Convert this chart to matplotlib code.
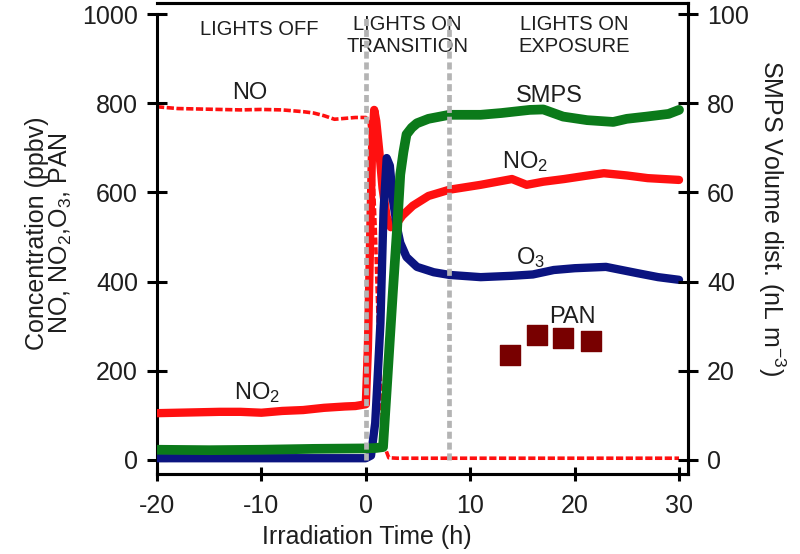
import numpy as np
import matplotlib
matplotlib.use("Agg")
import matplotlib.pyplot as plt

plt.rcParams['font.family'] = ['Liberation Sans', 'DejaVu Sans']
plt.rcParams['mathtext.default'] = 'regular'
plt.rcParams['axes.unicode_minus'] = False

# --- data ---
t_no = [-20, -18, -16, -14, -12, -10, -8, -6, -5, -4, -3, -2, -1, 0,
        0.3, 0.6, 0.9, 1.2, 1.5, 1.8, 2.2, 3, 5, 10, 15, 20, 25, 30]
no = [792, 788, 787, 786, 785, 786, 785, 781, 778, 772, 764, 766, 768, 768,
      760, 700, 520, 300, 120, 30, 5, 4, 4, 4, 4, 4, 4, 4]

t_no2 = [-20, -18, -16, -14, -12, -10, -8, -6, -4, -2, -1, 0, 0.2, 0.4, 0.6,
         0.8, 1.0, 1.3, 1.6, 2.0, 2.4, 2.8, 3.5, 4.5, 6, 8, 11, 14, 15.4,
         17, 19, 21, 22.8, 25, 27, 30]
no2 = [105, 106, 107, 108, 108, 106, 110, 112, 117, 120, 121, 125, 250, 480,
       700, 785, 760, 690, 610, 545, 522, 525, 548, 570, 592, 606, 617, 630,
       617, 624, 630, 637, 643, 638, 632, 628]

t_o3 = [-20, -10, 0, 0.5, 0.9, 1.1, 1.4, 1.7, 2.0, 2.3, 2.6, 3.0, 3.3, 3.9,
        4.9, 6.5, 8, 11, 14, 16, 18, 20, 23, 26, 28, 30]
o3 = [4, 4, 4, 10, 83, 170, 307, 560, 677, 660, 583, 520, 487, 455,
      433, 421, 415, 410, 413, 416, 426, 430, 433, 419, 410, 404]

t_smps = [-20, -15, -10, -5, 0, 1.0, 1.65, 2.0, 2.3, 2.6, 3.0, 3.3, 3.6, 3.9,
          4.4, 4.9, 6, 8, 11, 13, 15.7, 17, 18.9, 21.2, 23.7, 25, 26.9, 29, 30]
smps = [2.3, 2.2, 2.3, 2.5, 2.6, 2.7, 2.9, 15.7, 26.9, 38, 52, 64, 69, 73,
        74.5, 75.5, 76.5, 77.4, 77.4, 77.8, 78.5, 78.6, 77, 76.2, 75.8, 76.5,
        77, 77.6, 78.5]

t_pan = [13.8, 16.4, 18.9, 21.6]
pan = [235, 280, 274, 267]

x_ticks = [-20, -10, 0, 10, 20, 30]
left_ticks = [0, 200, 400, 600, 800, 1000]
right_ticks = [0, 20, 40, 60, 80, 100]

RED = '#ff1010'
NAVY = '#0b1480'
GREEN = '#0b7a1a'
PAN_C = '#780000'
TXT = '#1e1e1e'

fig = plt.figure(figsize=(8, 5.54), dpi=100)
ax = fig.add_axes([0.19625, 0.1444, 0.66375, 0.8502])
ax2 = ax.twinx()

ax.plot(t_no, no, color=RED, lw=2.6, ls=(0, (2, 0.7)), zorder=2)
ax.plot(t_no2, no2, color=RED, lw=6, solid_capstyle='round', zorder=3)
ax.plot(t_o3, o3, color=NAVY, lw=6, solid_capstyle='round', zorder=4)
ax.scatter(t_pan, pan, marker='s', s=190, color=PAN_C, zorder=5)
ax2.plot(t_smps, smps, color=GREEN, lw=7, solid_capstyle='round', zorder=3)

for xv in (0, 8):
    ax2.axvline(xv, ymin=0.03, ymax=0.975, color='#b4b4b4', lw=3.4,
                dashes=(1.5, 0.8), zorder=10)

ax.set_xlim(-20, 30.86)
ax.set_ylim(-31.4, 1024.7)
ax2.set_ylim(-3.14, 102.47)
ax.set_xticks(x_ticks)
ax.set_yticks(left_ticks)
ax2.set_yticks(right_ticks)

for a in (ax, ax2):
    for s in a.spines.values():
        s.set_linewidth(2.2)
ax.spines['left'].set_bounds(-31.4, 1000)
ax2.spines['left'].set_visible(False)

ax.tick_params(axis='y', direction='inout', length=14.4, width=2.2,
               pad=6.5, labelsize=18, labelcolor=TXT)
ax.tick_params(axis='x', direction='inout', length=9.5, width=2.2,
               pad=10, labelsize=18, labelcolor=TXT)
ax2.tick_params(axis='y', direction='inout', length=14.4, width=2.2,
                pad=6.5, labelsize=18, labelcolor=TXT)

# annotations
ax.text(-10.2, 966, 'LIGHTS OFF', ha='center', va='center', fontsize=14.5, color=TXT)
ax.text(3.95, 952, 'LIGHTS ON\nTRANSITION', ha='center', va='center',
        fontsize=14.5, color=TXT, linespacing=1.15)
ax.text(20.0, 952, 'LIGHTS ON\nEXPOSURE', ha='center', va='center',
        fontsize=14.5, color=TXT, linespacing=1.15)
ax.text(-11.1, 823, 'NO', ha='center', va='center', fontsize=17, color=TXT)
ax.text(-10.4, 152, 'NO$_2$', ha='center', va='center', fontsize=17, color=TXT)
ax.text(17.55, 816, 'SMPS', ha='center', va='center', fontsize=17, color=TXT)
ax.text(15.25, 670, 'NO$_2$', ha='center', va='center', fontsize=17, color=TXT)
ax.text(15.8, 455, 'O$_3$', ha='center', va='center', fontsize=17, color=TXT)
ax.text(19.75, 321, 'PAN', ha='center', va='center', fontsize=17, color=TXT)

fig.text(0.459, 0.031, 'Irradiation Time (h)', ha='center', va='center',
         fontsize=18, color=TXT)
fig.text(0.062, 0.579, 'Concentration (ppbv)\nNO, NO$_2$,O$_3$, PAN',
         ha='center', va='center', rotation=90, fontsize=18, color=TXT,
         linespacing=0.95, multialignment='center')
fig.text(0.964, 0.606, 'SMPS Volume dist. (nL m$^{-3}$)', ha='center',
         va='center', rotation=270, fontsize=18, color=TXT)

fig.savefig('out.png', dpi=100)
